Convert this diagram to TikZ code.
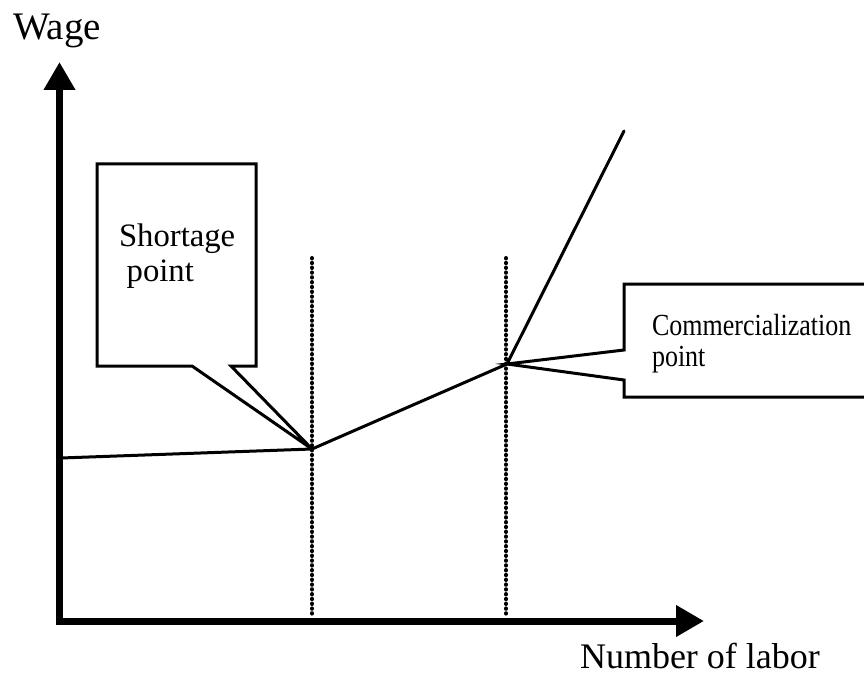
\documentclass[tikz,border=0pt]{standalone}
\usepackage{fontspec}
\setmainfont{Liberation Serif}
\usetikzlibrary{arrows.meta}
\begin{document}
\begin{tikzpicture}[x=1pt,y=-1pt,
  axis/.style={line width=7pt,-{Triangle[width=30pt,length=28pt]}},
  curve/.style={line width=3pt,line join=round,line cap=round},
  callout/.style={line width=3pt,line join=miter,fill=white},
  guide/.style={line width=4pt,line cap=round,dash pattern=on 0.4pt off 4.4pt},
  lbl/.style={anchor=base west,inner sep=0pt,outer sep=0pt}]
\useasboundingbox (0,0) rectangle (864,676);
% key points
\coordinate (O) at (59.5,621);
\coordinate (Ytip) at (59.5,62);
\coordinate (Xtip) at (704,621);
\coordinate (A) at (61,458);
\coordinate (S) at (312,449);
\coordinate (C) at (507,364);
\coordinate (E) at (624,131);
\coordinate (S1) at (312,258);
\coordinate (S2) at (312,617);
\coordinate (C1) at (506,258);
\coordinate (C2) at (506,617);
% guides
\draw[guide] (S1) -- (S2);
\draw[guide] (C1) -- (C2);
% callouts
\draw[callout] (192,366) -- (97,366) -- (97,164) -- (256,164) -- (256,366) -- (231,366) -- (S) -- cycle;
\fill[white] (624,284) rectangle (866,397);
\draw[callout,fill=none] (866,284) -- (624,284) -- (624,350) -- (C) -- (624,380) -- (624,397) -- (866,397);
% curve
\draw[curve] (A) -- (S) -- (C) -- (E);
% axes
\draw[axis] (59.5,624.5) -- (Ytip);
\draw[axis] (56,621) -- (Xtip);
% labels
\node[lbl,font=\fontsize{39}{44}\selectfont] (wage) at (13,40) {Wage};
\node[lbl,font=\fontsize{36}{40}\selectfont] (labor) at (580,668) {Number of labor};
\node[lbl,font=\fontsize{32.7}{35}\selectfont] (sp1) at (119,246.7) {Shortage};
\node[lbl,font=\fontsize{32.7}{35}\selectfont] (sp2) at (126.7,281.7) {point};
\node[lbl,font=\fontsize{26}{31}\selectfont] (cp1) at (652,335) {\scalebox{1}[1.18]{Commercialization}};
\node[lbl,font=\fontsize{26}{31}\selectfont] (cp2) at (652,366) {\scalebox{1}[1.18]{point}};
\end{tikzpicture}
\end{document}
